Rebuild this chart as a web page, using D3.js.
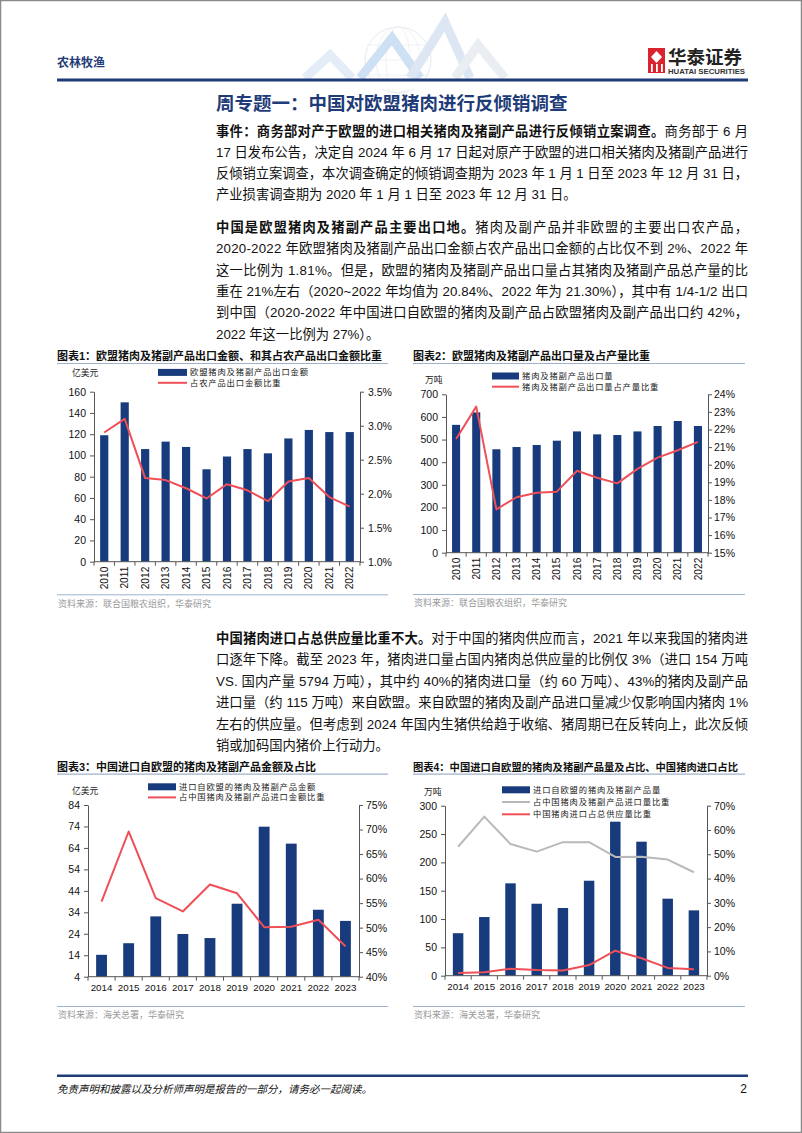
<!DOCTYPE html>
<html><head><meta charset="utf-8">
<script src="https://cdn.jsdelivr.net/npm/d3@7"></script>
<style>
html,body{margin:0;padding:0;background:#fff;}
svg{display:block;}
text{white-space:pre;}
</style></head><body>
<svg id="page" width="802" height="1133"></svg>
<script>
// ---------------- DATA ----------------
const years1 = ["2010","2011","2012","2013","2014","2015","2016","2017","2018","2019","2020","2021","2022"];
const exportValue = [119,150,106,113,108,87,99,106,102,116,124,122,122];          // 亿美元
const exportValueShare = [2.90,3.10,2.23,2.20,2.08,1.93,2.14,2.05,1.89,2.18,2.23,1.95,1.81]; // %
const exportVolume = [565,620,457,467,476,495,536,523,520,536,560,582,560];       // 万吨
const exportVolumeShare = [21.46,23.30,17.46,18.15,18.41,18.47,19.66,19.26,18.94,19.76,20.40,20.82,21.30]; // %
const years2 = ["2014","2015","2016","2017","2018","2019","2020","2021","2022","2023"];
const importValue = [14.2,19.6,32.1,23.9,22.0,38.0,73.9,66.0,35.2,30.0];          // 亿美元
const importValueShare = [55.3,69.6,56.0,53.3,58.8,57.0,50.1,50.2,51.6,46.2];     // %
const importVolume = [75,103.5,163,127,119.5,167.6,271.8,236.5,135.9,115.3];      // 万吨
const importVolumeShare = [53.1,65.5,54.2,51.1,55.0,55.0,48.9,49.0,47.8,42.6];    // %
const porkImportSupplyShare = [1.1,1.4,2.9,2.3,2.1,4.4,10.3,7.2,3.2,2.7];         // %

const ticks1L = [0,20,40,60,80,100,120,140,160];
const ticks1R = [1.0,1.5,2.0,2.5,3.0,3.5];
const ticks2L = [0,100,200,300,400,500,600,700];
const ticks2R = [15,16,17,18,19,20,21,22,23,24];
const ticks3L = [4,14,24,34,44,54,64,74,84];
const ticks3R = [40,45,50,55,60,65,70,75];
const ticks4L = [0,50,100,150,200,250,300];
const ticks4R = [0,10,20,30,40,50,60,70];

// ---------------- STYLE ----------------
const NAVY = "#173b7c", RED = "#ef4f57", GRAY = "#b9b9b9", DARKBLUE = "#1f3c78", RULE = "#9fb2cc";
const CJK = "'Noto Sans CJK SC','Noto Sans',sans-serif";
const LAT = "'Liberation Sans',Arial,'Noto Sans CJK SC',sans-serif";
const svg = d3.select("#page");

// page border
svg.append("rect").attr("x",0.5).attr("y",0.5).attr("width",801).attr("height",1132)
  .attr("fill","#fff").attr("stroke","#8a8a8a").attr("stroke-width",1.5);

// ---------------- HEADER ----------------
const hdr = svg.append("g");
const deco = hdr.append("g").attr("opacity",0.5);
deco.append("circle").attr("cx",398).attr("cy",60).attr("r",33).attr("fill","none").attr("stroke","#cfd6df").attr("stroke-width",1);
[12,22].forEach(rx=>deco.append("ellipse").attr("cx",398).attr("cy",60).attr("rx",rx).attr("ry",33).attr("fill","none").attr("stroke","#d8dee6").attr("stroke-width",0.8));
[45,60,75].forEach(yy=>deco.append("line").attr("x1",367).attr("x2",429).attr("y1",yy).attr("y2",yy).attr("stroke","#d8dee6").attr("stroke-width",0.8));
const chev = [[[305,78],[330,55],[352,78]],[[360,78],[392,38],[420,78]],[[410,78],[445,22],[470,78]],[[455,78],[478,45],[505,78]]];
const chevCol = ["#c9daf0","#9fc2e8","#bcd0ea","#d6dde6"];
chev.forEach((p,i)=>deco.append("polyline").attr("points",p.map(q=>q.join(",")).join(" ")).attr("fill","none").attr("stroke",chevCol[i]).attr("stroke-width",9).attr("stroke-linejoin","miter"));
hdr.append("rect").attr("x",300).attr("y",79).attr("width",220).attr("height",10).attr("fill","#fff");

hdr.append("text").attr("x",57).attr("y",66.5).attr("font-family",CJK).attr("font-weight","bold").attr("font-size",12).attr("fill",DARKBLUE).text("农林牧渔");
const logo = hdr.append("g");
logo.append("rect").attr("x",648).attr("y",48).attr("width",17).attr("height",25).attr("fill","#d9232e");
logo.append("path").attr("d","M656.5,51 L662,57 L656.5,63 L651,57 Z").attr("fill","#fff");
[651,656,661].forEach(xx=>logo.append("rect").attr("x",xx).attr("y",64).attr("width",1.8).attr("height",8).attr("fill","#fff"));
logo.append("text").attr("x",668).attr("y",63.5).attr("font-family",CJK).attr("font-weight","bold").attr("font-size",18.5).attr("fill","#222").text("华泰证券");
logo.append("text").attr("x",668).attr("y",74).attr("font-family",LAT).attr("font-weight","bold").attr("font-size",6.5).attr("fill","#333")
  .attr("textLength",77).attr("lengthAdjust","spacingAndGlyphs").text("HUATAI SECURITIES");
hdr.append("rect").attr("x",57).attr("y",78.5).attr("width",691).attr("height",3).attr("fill",DARKBLUE);

// ---------------- BODY TEXT ----------------
svg.append("text").attr("x",216).attr("y",110).attr("font-family",CJK).attr("font-weight","bold").attr("font-size",18.5).attr("fill",DARKBLUE)
  .text("周专题一：中国对欧盟猪肉进行反倾销调查");

const bodyX = 216, bodyW = 532, bodySize = 13.3;
function para(lines, ys){
  lines.forEach((ln,i)=>{
    const t = svg.append("text").attr("x",bodyX).attr("y",ys[i]+bodySize*0.36)
      .attr("font-family",LAT).attr("font-size",bodySize).attr("fill","#111");
    ln.segs.forEach(s=>t.append("tspan").attr("font-weight",s[1]?"bold":"normal").text(s[0]));
    if(ln.j) t.attr("textLength",bodyW).attr("lengthAdjust","spacing");
  });
}
para([
  {segs:[["事件：商务部对产于欧盟的进口相关猪肉及猪副产品进行反倾销立案调查。",1],["商务部于 6 月",0]],j:1},
  {segs:[["17 日发布公告，决定自 2024 年 6 月 17 日起对原产于欧盟的进口相关猪肉及猪副产品进行",0]],j:1},
  {segs:[["反倾销立案调查，本次调查确定的倾销调查期为 2023 年 1 月 1 日至 2023 年 12 月 31 日，",0]],j:1},
  {segs:[["产业损害调查期为 2020 年 1 月 1 日至 2023 年 12 月 31 日。",0]],j:0}
],[131,152.5,173.5,194.5]);
para([
  {segs:[["中国是欧盟猪肉及猪副产品主要出口地。",1],["猪肉及副产品并非欧盟的主要出口农产品，",0]],j:1},
  {segs:[["2020-2022 年欧盟猪肉及猪副产品出口金额占农产品出口金额的占比仅不到 2%、2022 年",0]],j:1},
  {segs:[["这一比例为 1.81%。但是，欧盟的猪肉及猪副产品出口量占其猪肉及猪副产品总产量的比",0]],j:1},
  {segs:[["重在 21%左右（2020~2022 年均值为 20.84%、2022 年为 21.30%），其中有 1/4-1/2 出口",0]],j:1},
  {segs:[["到中国（2020-2022 年中国进口自欧盟的猪肉及副产品占欧盟猪肉及副产品出口约 42%，",0]],j:1},
  {segs:[["2022 年这一比例为 27%）。",0]],j:0}
],[227,248.5,270,291,312.5,334]);
para([
  {segs:[["中国猪肉进口占总供应量比重不大。",1],["对于中国的猪肉供应而言，2021 年以来我国的猪肉进",0]],j:1},
  {segs:[["口逐年下降。截至 2023 年，猪肉进口量占国内猪肉总供应量的比例仅 3%（进口 154 万吨",0]],j:1},
  {segs:[["VS. 国内产量 5794 万吨），其中约 40%的猪肉进口量（约 60 万吨）、43%的猪肉及副产品",0]],j:1},
  {segs:[["进口量（约 115 万吨）来自欧盟。来自欧盟的猪肉及副产品进口量减少仅影响国内猪肉 1%",0]],j:1},
  {segs:[["左右的供应量。但考虑到 2024 年国内生猪供给趋于收缩、猪周期已在反转向上，此次反倾",0]],j:1},
  {segs:[["销或加码国内猪价上行动力。",0]],j:0}
],[638,659.5,681,702.5,724,745]);

// ---------------- CHARTS ----------------
function chart(c){
  const g = svg.append("g");
  const tt = g.append("text").attr("x",c.tx).attr("y",c.ty+4).attr("font-family",LAT).attr("font-weight","bold")
    .attr("font-size",c.tSize||11).attr("fill","#111").text(c.title);
  g.append("line").attr("x1",c.tx).attr("x2",c.tx2).attr("y1",c.ty+7.5).attr("y2",c.ty+7.5).attr("stroke",RULE).attr("stroke-width",1.2);
  g.append("line").attr("x1",c.tx).attr("x2",c.tx2).attr("y1",c.srcY-8.5).attr("y2",c.srcY-8.5).attr("stroke",RULE).attr("stroke-width",1);
  g.append("text").attr("x",c.tx+1).attr("y",c.srcY+3.3).attr("font-family",CJK).attr("font-size",9).attr("fill","#9a9a9a").text(c.source);

  const x = d3.scaleBand().domain(c.cats).range([c.x0,c.x1]).padding(0);
  const yL = d3.scaleLinear().domain([c.lT[0],c.lT[c.lT.length-1]]).range([c.yBot,c.yTop]);
  const yR = d3.scaleLinear().domain([c.rT[0],c.rT[c.rT.length-1]]).range([c.yBot,c.yTop]);
  const bw = x.bandwidth();

  g.append("g").selectAll("rect").data(c.bars).join("rect")
    .attr("x",(d,i)=>x(c.cats[i])+bw*0.3).attr("width",bw*0.4)
    .attr("y",d=>yL(d)).attr("height",d=>yL(c.lT[0])-yL(d)).attr("fill",NAVY);

  const styleAxis = sel=>{
    sel.selectAll("path,line").attr("stroke","#555").attr("stroke-width",1);
    sel.selectAll("text").attr("font-family",LAT).attr("font-size",10.5).attr("fill","#111");
  };
  g.append("g").attr("transform",`translate(${c.x0},0)`)
    .call(d3.axisLeft(yL).tickValues(c.lT).tickFormat(d=>d).tickSize(4).tickSizeOuter(0).tickPadding(4)).call(styleAxis);
  g.append("g").attr("transform",`translate(${c.x1},0)`)
    .call(d3.axisRight(yR).tickValues(c.rT).tickFormat(c.rFmt).tickSize(4).tickSizeOuter(0).tickPadding(c.rPad)).call(styleAxis);
  const xa = g.append("g");
  xa.append("line").attr("x1",c.x0).attr("x2",c.x1).attr("y1",c.yBot).attr("y2",c.yBot).attr("stroke","#555");
  xa.selectAll("line.tk").data(d3.range(c.cats.length+1)).join("line").attr("class","tk")
    .attr("x1",i=>c.x0+i*x.step()).attr("x2",i=>c.x0+i*x.step()).attr("y1",c.yBot).attr("y2",c.yBot+4).attr("stroke","#555");
  const lab = xa.selectAll("text").data(c.cats).join("text")
    .attr("font-family",LAT).attr("font-size",c.rotate?10.2:9.8).attr("fill","#111").text(d=>d);
  if(c.rotate){
    lab.attr("text-anchor","end").attr("dy","0.35em")
      .attr("transform",d=>`translate(${x(d)+bw/2},${c.yBot+5}) rotate(-90)`);
  } else {
    lab.attr("text-anchor","middle").attr("x",d=>x(d)+bw/2).attr("y",c.yBot+14.5);
  }
  c.lines.forEach(L=>{
    const line = d3.line().x((d,i)=>x(c.cats[i])+bw/2).y(d=>yR(d));
    g.append("path").attr("d",line(L.v)).attr("fill","none").attr("stroke",L.color).attr("stroke-width",2).attr("stroke-linejoin","round");
  });
  g.append("text").attr("x",c.ux).attr("y",c.uy+3.3).attr("font-family",CJK).attr("font-size",8.8).attr("fill","#222").text(c.unit);
  c.legend.forEach((it,i)=>{
    const yy = c.lg.ys[i];
    if(it.type==="bar") g.append("rect").attr("x",c.lg.x).attr("y",yy-3.5).attr("width",c.lg.w).attr("height",7).attr("fill",NAVY);
    else g.append("line").attr("x1",c.lg.x).attr("x2",c.lg.x+c.lg.w).attr("y1",yy).attr("y2",yy).attr("stroke",it.color).attr("stroke-width",2);
    g.append("text").attr("x",c.lg.tx).attr("y",yy+3).attr("font-family",CJK).attr("font-size",8.3)
      .attr("letter-spacing",0.85).attr("fill","#222").text(it.label);
  });
}

chart({title:"图表1：欧盟猪肉及猪副产品出口金额、和其占农产品出口金额比重",tx:57,tx2:388,ty:356,srcY:603.3,
  source:"资料来源：联合国粮农组织，华泰研究",
  x0:94,x1:360,yTop:391.7,yBot:561.7,cats:years1,bars:exportValue,lT:ticks1L,rT:ticks1R,rFmt:d=>d.toFixed(1)+"%",rPad:4,
  lines:[{v:exportValueShare,color:RED}],rotate:true,unit:"亿美元",ux:72,uy:373,
  lg:{x:158,w:29,tx:190,ys:[372.4,382.8]},
  legend:[{type:"bar",label:"欧盟猪肉及猪副产品出口金额"},{type:"line",color:RED,label:"占农产品出口金额比重"}]});

chart({title:"图表2：欧盟猪肉及猪副产品出口量及占产量比重",tx:413,tx2:745,ty:356,srcY:603,
  source:"资料来源：联合国粮农组织，华泰研究",
  x0:446,x1:708,yTop:394.3,yBot:552.7,cats:years1,bars:exportVolume,lT:ticks2L,rT:ticks2R,rFmt:d=>d+"%",rPad:2,
  lines:[{v:exportVolumeShare,color:RED}],rotate:true,unit:"万吨",ux:425,uy:380,
  lg:{x:492,w:27,tx:522,ys:[376,386.7]},
  legend:[{type:"bar",label:"猪肉及猪副产品出口量"},{type:"line",color:RED,label:"猪肉及猪副产品出口量占产量比重"}]});

chart({title:"图表3：中国进口自欧盟的猪肉及猪副产品金额及占比",tx:57,tx2:388,ty:766.7,srcY:1015,
  source:"资料来源：海关总署，华泰研究",
  x0:88,x1:359,yTop:805,yBot:976.7,cats:years2,bars:importValue,lT:ticks3L,rT:ticks3R,rFmt:d=>d+"%",rPad:3,
  lines:[{v:importValueShare,color:RED}],rotate:false,unit:"亿美元",ux:72,uy:790.5,
  lg:{x:148,w:28,tx:179,ys:[786.8,797.4]},
  legend:[{type:"bar",label:"进口自欧盟的猪肉及猪副产品金额"},{type:"line",color:RED,label:"占中国猪肉及猪副产品进口金额比重"}]});

chart({title:"图表4：中国进口自欧盟的猪肉及猪副产品量及占比、中国猪肉进口占比",tx:413,tx2:745,ty:766.7,srcY:1015,tSize:10.3,
  source:"资料来源：海关总署，华泰研究",
  x0:445,x1:707,yTop:805.7,yBot:975.7,cats:years2,bars:importVolume,lT:ticks4L,rT:ticks4R,rFmt:d=>d+"%",rPad:3,
  lines:[{v:importVolumeShare,color:GRAY},{v:porkImportSupplyShare,color:RED}],rotate:false,unit:"万吨",ux:424,uy:791.5,
  lg:{x:502,w:28,tx:533,ys:[789.8,802,814.3]},
  legend:[{type:"bar",label:"进口自欧盟的猪肉及猪副产品量"},{type:"line",color:GRAY,label:"占中国猪肉及猪副产品进口量比重"},{type:"line",color:RED,label:"中国猪肉进口占总供应量比重"}]});

// ---------------- FOOTER ----------------
svg.append("rect").attr("x",57).attr("y",1074.5).attr("width",691).attr("height",2.5).attr("fill",DARKBLUE);
svg.append("text").attr("x",57).attr("y",1092.5).attr("font-family",CJK).attr("font-size",10.5).attr("font-style","italic").attr("fill","#111")
  .text("免责声明和披露以及分析师声明是报告的一部分，请务必一起阅读。");
svg.append("text").attr("x",747).attr("y",1093).attr("text-anchor","end").attr("font-family",LAT).attr("font-size",12).attr("fill","#111").text("2");
</script>
</body></html>
